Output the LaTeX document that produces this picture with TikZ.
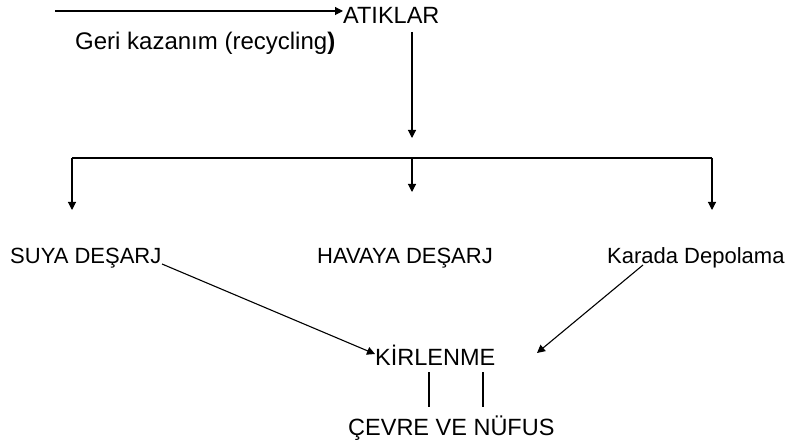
\documentclass[tikz,border=0pt]{standalone}
\usepackage{fontspec}
\setmainfont{Liberation Sans}
\usetikzlibrary{arrows.meta}
\tikzset{
  big/.style={anchor=base west, inner sep=0pt, font=\fontsize{23.5}{28}\selectfont},
  mid/.style={anchor=base west, inner sep=0pt, font=\fontsize{22}{26}\selectfont},
  link/.style={line width=1.1pt, -{Triangle[length=8pt,width=8pt]}},
  plain/.style={line width=1.6pt},
  bar/.style={line width=2pt},
}
\begin{document}
\begin{tikzpicture}[x=1pt, y=-1pt]
\useasboundingbox (0,0) rectangle (790,446);

% labels
\node[big] (atik) at (343,24) {ATIKLAR};
\node[big, font=\fontsize{24}{28}\selectfont] (geri) at (75,50) {Geri kazanım (recycling\textbf{)}};
\node[mid] (suya) at (10,264) {SUYA DEŞARJ};
\node[mid] (hava) at (317,264) {HAVAYA DEŞARJ};
\node[mid] (kara) at (607,264) {Karada Depolama};
\node[big] (kirl) at (375,366) {KİRLENME};
\node[big] (cevre) at (348,435) {ÇEVRE VE NÜFUS};

% free ends of the connectors
\coordinate (src) at (55,11);
\coordinate (down) at (412,32);
\coordinate (downEnd) at (412,138);
\coordinate (barL) at (72,158);
\coordinate (barM) at (412,158);
\coordinate (barR) at (712,158);
\coordinate (tipL) at (72,210);
\coordinate (tipM) at (412,192);
\coordinate (tipR) at (712,210);
\coordinate (suyaOut) at (162,264);
\coordinate (karaOut) at (643,265);
\coordinate (kirlIn) at (375,354);
\coordinate (kirlInR) at (537,353);
\coordinate (l1a) at (429,372);
\coordinate (l1b) at (429,407);
\coordinate (l2a) at (483,372);
\coordinate (l2b) at (483,407);

% recycling loop back into the waste
\draw[link] (src) -- (src -| atik.west);
\draw[link] (down) -- (downEnd);

% distribution bar
\draw[bar] (barL) -- (barR);
\draw[link] (barL) -- (tipL);
\draw[link] (barM) -- (tipM);
\draw[link] (barR) -- (tipR);

% towards pollution
\draw[link] (suyaOut) -- (kirlIn);
\draw[link] (karaOut) -- (kirlInR);

% pollution to environment and population
\draw[plain] (l1a) -- (l1b);
\draw[plain] (l2a) -- (l2b);
\end{tikzpicture}
\end{document}
